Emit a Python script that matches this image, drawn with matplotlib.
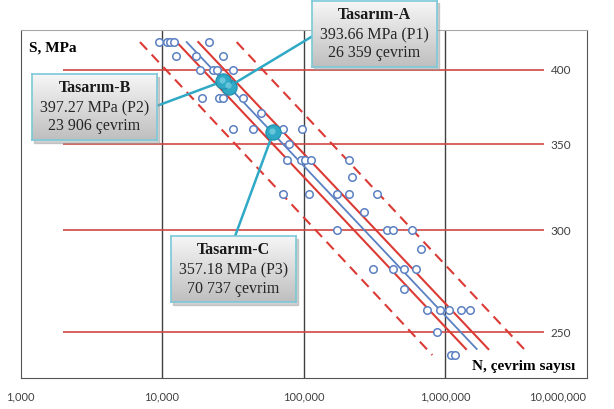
import numpy as np
import matplotlib.pyplot as plt
from matplotlib.colors import LinearSegmentedColormap
from matplotlib.patches import Rectangle
from matplotlib.ticker import NullLocator
from matplotlib.transforms import ScaledTranslation

# test results: stress level (MPa) and cycles to failure
stress = [420, 420, 420, 420, 420,
          410, 410, 410,
          400, 400, 400, 400,
          380, 380, 380, 380,
          370,
          360, 360, 360, 360,
          350,
          340, 340, 340, 340, 340,
          330,
          320, 320, 320, 320, 320,
          310,
          300, 300, 300, 300,
          290,
          280, 280, 280, 280,
          270,
          260, 260, 260, 260, 260,
          250,
          240, 240]
cycles = [9570, 10850, 11480, 12100, 21380,
          12560, 17390, 27120,
          18560, 23040, 24360, 31750,
          19080, 25160, 26990, 37060,
          50070,
          31910, 44180, 71640, 97110,
          79370,
          76080, 96010, 102500, 112400, 210700,
          219100,
          71290, 108500, 171100, 210700, 329200,
          267700,
          171700, 389200, 432500, 584700,
          680000,
          308400, 426900, 510700, 627000,
          515700,
          752100, 921800, 1072500, 1287000, 1502000,
          873700,
          1097200, 1176500]

# fitted S-N line and bands (end points)
fit_S = [420.3, 242.5]
mean_N = [14950, 1675000]
lower_N = [12700, 1407000]
upper_N = [18050, 2023000]
band_lo_S = [420.3, 239.9]
band_lo_N = [6990, 813500]
band_hi_N = [33720, 3617000]

# reference stress levels
ref_S = [400, 350, 300, 250]
ref_N_span = [2000, 5000000]

# design points
design_name = ['Tasarım-A', 'Tasarım-B', 'Tasarım-C']
design_line1 = ['393.66 MPa (P1)', '397.27 MPa (P2)', '357.18 MPa (P3)']
design_line2 = ['26 359 çevrim', '23 906 çevrim', '70 737 çevrim']
design_N = [29760, 27120, 61160]
design_S = [388.1, 391.9, 357.6]

xticks = [1e3, 1e4, 1e5, 1e6, 1e7]
xticklabels = ['1,000', '10,000', '100,000', '1,000,000', '10,000,000']
grid_N = [1e4, 1e5, 1e6]

W, H = 614, 410
RED = '#dc3a35'
HRED = '#cf4844'
BLUE = '#5b80c2'
TEAL = '#2fa9c6'


def px_rect(x0, y0, w, h):
    return [x0 / W, 1 - (y0 + h) / H, w / W, h / H]


fig = plt.figure(figsize=(W / 100, H / 100), dpi=100)
ax = fig.add_axes(px_rect(20.5, 31, 566, 348.3))
ax.set_xscale('log')
ax.set_yscale('log')
ax.set_xlim(1e3, 1e7)
ax.set_ylim(230.1, 429.5)

for n in grid_N:
    ax.axvline(n, color='#404040', lw=1.0, zorder=1)
ax.hlines(ref_S, ref_N_span[0], ref_N_span[1], color=HRED, lw=1.2, zorder=1)
for s in ref_S:
    ax.text(6.6e6, s, str(s), ha='center', va='center', fontsize=8.5,
            family='Lato', color='#404040')

ax.plot(band_lo_N, band_lo_S, color=RED, lw=1.5, ls=(0, (5, 3.2)), zorder=2)
ax.plot(band_hi_N, fit_S, color=RED, lw=1.5, ls=(0, (5, 3.2)), zorder=2)
ax.plot(lower_N, fit_S, color=RED, lw=1.5, zorder=2)
ax.plot(upper_N, fit_S, color=RED, lw=1.5, zorder=2)
ax.plot(mean_N, fit_S, color=BLUE, lw=1.3, zorder=2)

ax.plot(cycles, stress, 'o', ms=5.4, mfc='white', mec=BLUE, mew=1.1,
        zorder=3)

# connectors from boxes to design points
anchors = [(313.3, 36.7), (157.3, 106.7), (235, 237.3)]
for (px, py), n, s in zip(anchors, design_N, design_S):
    ax.annotate('', xy=(n, s), xytext=(px, H - py),
                textcoords='figure pixels',
                arrowprops=dict(arrowstyle='-', color=TEAL, lw=1.8,
                                shrinkA=0, shrinkB=0),
                zorder=4)
ax.plot(design_N, design_S, 'o', ms=11, color=TEAL, mec='#1c8fab', mew=0.8,
        zorder=5)
ax.plot([n * 0.985 for n in design_N], [s * 1.002 for s in design_S], 'o',
        ms=4.5, color='#7fd3e4', mew=0, alpha=0.7, zorder=6)

ax.set_xticks(xticks)
ax.set_xticklabels(xticklabels, family='Lato', fontsize=8, color='#404040')
last = ax.get_xticklabels()[-1]
last.set_horizontalalignment('right')
last.set_transform(last.get_transform() +
                   ScaledTranslation(0.26, 0, fig.dpi_scale_trans))
ax.xaxis.set_minor_locator(NullLocator())
ax.yaxis.set_major_locator(NullLocator())
ax.yaxis.set_minor_locator(NullLocator())
ax.tick_params(axis='x', length=0, pad=9)
for side in ['left', 'bottom', 'right']:
    ax.spines[side].set_color('#555555')
ax.spines['top'].set_color('#a8a8a8')

ax.text(0.0155, 0.952, 'S, MPa', transform=ax.transAxes, ha='left',
        va='center', family='Liberation Serif', weight='bold', fontsize=11)
ax.text(0.98, 0.038, 'N, çevrim sayısı', transform=ax.transAxes, ha='right',
        va='center', family='Liberation Serif', weight='bold', fontsize=11)

# callout boxes
grad = LinearSegmentedColormap.from_list('g', ['#bfbfbf', '#f6f6f6'])
boxes = [(312.3, 1.7), (32.3, 75), (171, 237.3)]
for (bx, by), name, l1, l2 in zip(boxes, design_name, design_line1, design_line2):
    shadow = Rectangle(((bx + 2) / W, 1 - (by + 68.5) / H), 124.5 / W, 66 / H,
                       transform=fig.transFigure, color='#999999', alpha=0.45,
                       zorder=1)
    fig.add_artist(shadow)
    bax = fig.add_axes(px_rect(bx, by, 124.5, 66), zorder=2)
    bax.imshow(np.linspace(0, 1, 60).reshape(-1, 1), cmap=grad, origin='lower',
               extent=[0, 1, 0, 1], aspect='auto')
    bax.set_xticks([])
    bax.set_yticks([])
    for sp in bax.spines.values():
        sp.set_color('#7cc8d8')
        sp.set_linewidth(1.2)
    bax.text(0.5, 0.80, name, ha='center', va='center', fontsize=11.5,
             family='Liberation Serif', weight='bold', color='#1a1a1a')
    bax.text(0.5, 0.495, l1, ha='center', va='center', fontsize=11.5,
             family='Liberation Serif', color='#262626')
    bax.text(0.5, 0.22, l2, ha='center', va='center', fontsize=11.5,
             family='Liberation Serif', color='#262626')

fig.savefig('out.png', dpi=100)
